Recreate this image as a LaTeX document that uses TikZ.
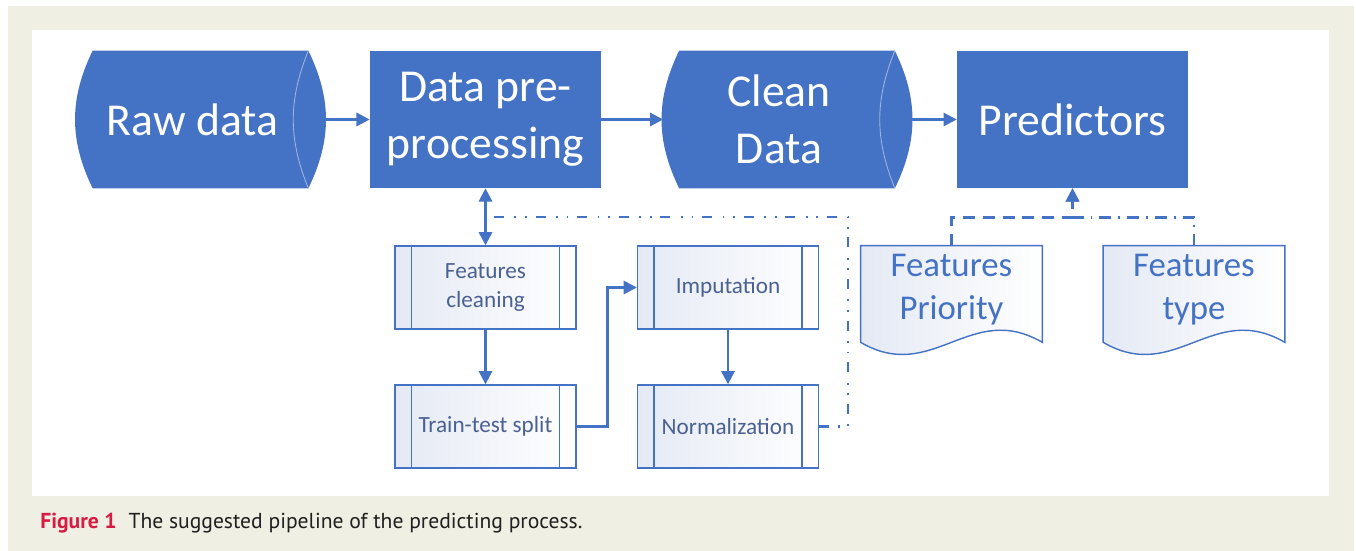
\documentclass[tikz,border=0pt]{standalone}
\usepackage{fontspec}
\setmainfont{Carlito}
\newfontfamily\capfont{PT Sans}
\usetikzlibrary{calc,arrows.meta,backgrounds}
\definecolor{mainblue}{HTML}{4472C4}
\definecolor{facelight}{HTML}{9DB3E0}
\definecolor{subtext}{HTML}{4A6192}
\definecolor{boxshade}{HTML}{E4E9F4}
\definecolor{pagebeige}{HTML}{EFEFE3}
\definecolor{capred}{HTML}{D81B43}
\definecolor{captext}{HTML}{231F20}

\begin{document}
\begin{tikzpicture}[x=0.02cm,y=-0.02cm,>={Triangle[length=7.5pt,width=7.5pt]},
  bigbox/.style={minimum width=4.62cm,minimum height=2.74cm,inner sep=0pt,text=white,align=center,font=\fontsize{26}{32.3}\selectfont},
  subbox/.style={draw=mainblue,line width=0.8pt,left color=boxshade,right color=white,minimum width=3.62cm,minimum height=1.66cm,inner sep=0pt,text=subtext,align=center,font=\fontsize{13.2}{16.4}\selectfont},
  docbox/.style={minimum width=3.62cm,minimum height=1.76cm,inner sep=0pt,text=mainblue,align=center,font=\fontsize{19.8}{24.4}\selectfont},
  arr/.style={->,draw=mainblue,line width=1.4pt},
  loopline/.style={draw=mainblue,line width=1.4pt,dash pattern=on 5.7pt off 5pt on 1pt off 5pt on 1pt off 6pt},
  feeddash/.style={dash pattern=on 6.8pt off 4.5pt},
  feeddot/.style={dash pattern=on 6.8pt off 4pt on 1pt off 4pt}]
\useasboundingbox (0,0) rectangle (1356,551);
% main pipeline
\node[bigbox] (raw) at (192.5,119.5) {Raw data};
\node[bigbox,fill=mainblue] (pre) at (485.5,119.5) {Data pre-\\processing};
\node[bigbox] (clean) at (779,119.5) {Clean\\Data};
\node[bigbox,fill=mainblue] (pred) at (1072.5,119.5) {Predictors};
% pre-processing steps
\node[subbox] (fclean) at (485.5,287.5) {Features\\cleaning};
\node[subbox] (split) at (485.5,426.5) {Train-test split};
\node[subbox] (imput) at (728,287.5) {Imputation};
\node[subbox] (norm) at (728,426.5) {Normalization};
\foreach \n in {fclean,split,imput,norm} {
  \draw[mainblue,line width=0.8pt] ($(\n.north west)+(17,0)$) -- ($(\n.south west)+(17,0)$)
    ($(\n.north east)+(-17,0)$) -- ($(\n.south east)+(-17,0)$);
}
% documents feeding the predictors
\node[docbox] (prio) at (951.5,290) {Features\\Priority};
\node[docbox] (ftype) at (1194,290) {Features\\type};
% shapes behind the texts
\begin{pgfonlayer}{background}
\fill[white] (0,0) rectangle (1356,551);
\fill[pagebeige] (8,6) rectangle (1354,551);
\fill[white] (32,30) rectangle (1329,496);
\foreach \n in {raw,clean} {
  \fill[mainblue] ($(\n.north west)+(16,0)$) -- (\n.north east) to[bend left=26] (\n.south east)
    -- ($(\n.south west)+(16,0)$) to[bend left=26] cycle;
  \draw[facelight,line width=0.5pt] (\n.north east) to[bend right=22] (\n.south east);
}
\foreach \n in {prio,ftype} {
  \shade[left color=boxshade,right color=white,draw=mainblue,line width=0.8pt]
    (\n.north west) -- (\n.north east) -- ($(\n.south east)+(0,8)$)
    .. controls ($(\n.south east)+(-72,-34)$) and ($(\n.south west)+(72,50)$) .. ($(\n.south west)+(0,8)$) -- cycle;
}
\end{pgfonlayer}
% connectors
\draw[arr] (raw) -- (pre);
\draw[arr] (pre) -- (clean);
\draw[arr] (clean) -- (pred);
\draw[arr,<->] (pre) -- (fclean);
\draw[arr] (fclean) -- (split);
\draw[arr] (split.east) -- ++(31,0) |- (imput.west);
\draw[arr] (imput) -- (norm);
\draw[loopline] (norm.east) -- ++(29,0) |- ($(pre.south)!.5!(fclean.north)$);
\draw[arr,feeddash] (prio.north) |- ($(pred.south)+(0,29)$) -- (pred.south);
\draw[arr,feeddot] (ftype.north) |- ($(pred.south)+(0,29)$) -- (pred.south);
% caption
\node[anchor=base west,inner sep=0pt,text=captext,font=\capfont\fontsize{12.3}{15}\selectfont] (cap) at (40,528)
  {\textcolor{capred}{\textbf{Figure 1}}\hspace{0.55em}The suggested pipeline of the predicting process.};
\end{tikzpicture}
\end{document}
